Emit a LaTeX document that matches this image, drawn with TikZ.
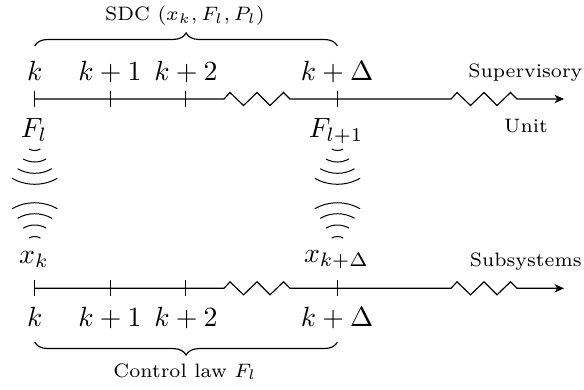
\documentclass[tikz,border=0pt]{standalone}
\usetikzlibrary{arrows.meta,decorations.pathreplacing}
\tikzset{
  axisline/.style={line width=0.42pt,-{Stealth[length=3.4pt,width=3pt,inset=1pt]}},
  tickmark/.style={line width=0.36pt},
  wave/.style={line width=0.36pt},
  bracemark/.style={line width=0.42pt,decorate,decoration={brace,amplitude=4.7pt}},
  bigl/.style={anchor=base,inner sep=0pt,outer sep=0pt},
  smalll/.style={anchor=base,inner sep=0pt,outer sep=0pt,font=\fontsize{7}{9}\selectfont},
}
\begin{document}
\begin{tikzpicture}[x=0.36pt,y=-0.36pt]
\useasboundingbox (0,0) rectangle (584,389);
% time axes
\foreach \n/\y in {top/99,bot/288.3}{
  \coordinate (\n0) at (34.7,\y);
  \coordinate (\n1) at (110.4,\y);
  \coordinate (\n2) at (185.7,\y);
  \coordinate (\n3) at (337.4,\y);
  \coordinate (\n e) at (564,\y);
  \draw[axisline] (\n0) -- (224,\y) -- (230,\y-6.5) -- (243.5,\y+6.5) -- (257,\y-6.5) -- (270,\y+6.5) -- (283.5,\y-6.5) -- (290,\y)
     -- (451,\y) -- (457,\y-6.5) -- (470.5,\y+6.5) -- (484,\y-6.5) -- (497,\y+6.5) -- (510.5,\y-6.5) -- (517,\y) -- (\n e);
  \foreach \i in {0,1,2,3}{
    \draw[tickmark] ([yshift=2.9pt]\n\i) -- ([yshift=-2.9pt]\n\i);
  }
}
% labels, upper axis
\node[bigl] (tk)  at (34.7,80) {$k$};
\node[bigl] (tk1) at (110,80) {$k+1$};
\node[bigl] (tk2) at (186,80) {$k+2$};
\node[bigl] (tkd) at (337,80) {$k+\Delta$};
\node[bigl] (fl)  at (34,137) {$F_l$};
\node[bigl] (fl1) at (336,137) {$F_{l+1}$};
\node[smalll] (sup) at (525.3,77) {Supervisory};
\node[smalll] (uni) at (526,132) {Unit};
% labels, lower axis
\node[bigl] (xk)  at (34,263) {$x_k$};
\node[bigl] (xkd) at (336.5,262.5) {$x_{k+\Delta}$};
\node[bigl] (bk)  at (34.7,326) {$k$};
\node[bigl] (bk1) at (110,326) {$k+1$};
\node[bigl] (bk2) at (186,326) {$k+2$};
\node[bigl] (bkd) at (337,326) {$k+\Delta$};
\node[smalll] (sub) at (525.7,266) {Subsystems};
% braces
\coordinate (bta) at (34.7,46);
\coordinate (btb) at (337.4,46);
\coordinate (bba) at (34.7,342);
\coordinate (bbb) at (337.4,342);
\draw[bracemark] (bta) -- (btb);
\draw[bracemark] (bbb) -- (bba);
\node[smalll] (sdc) at (185,20.5) {SDC $(x_k,F_l,P_l)$};
\node[smalll] (law) at (185,377) {Control law $F_l$};
% radio waves
\foreach \cx in {34.7,337.4}{
  \foreach \r in {11.5,23,34.3,45.3}{
    \draw[wave] ({\cx+\r*sin(30)},{139+\r*cos(30)}) arc[start angle=-60,end angle=-120,radius=\r*0.36pt];
    \draw[wave] ({\cx+\r*sin(30)},{248-\r*cos(30)}) arc[start angle=60,end angle=120,radius=\r*0.36pt];
  }
}
\end{tikzpicture}
\end{document}
